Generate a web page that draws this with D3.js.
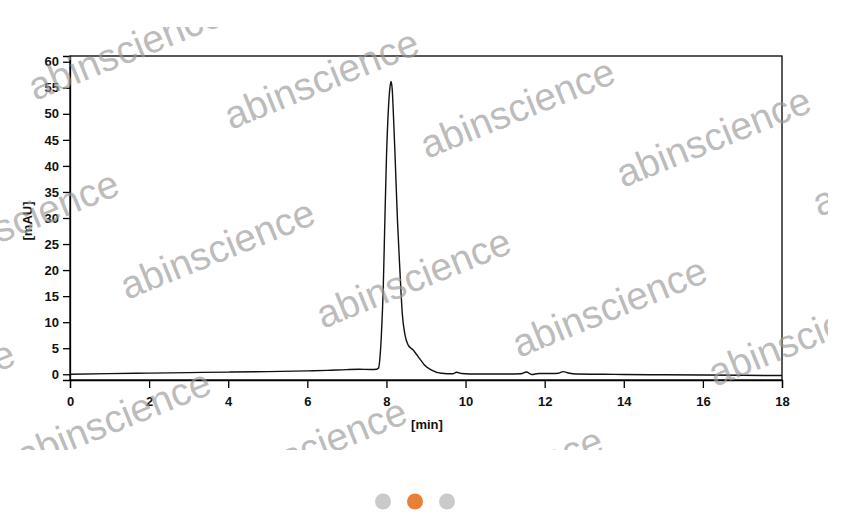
<!DOCTYPE html>
<html>
<head>
<meta charset="utf-8">
<script src="https://cdn.jsdelivr.net/npm/d3@7"></script>
<style>
  html, body { margin: 0; padding: 0; background: #fff; }
  svg { display: block; }
</style>
</head>
<body>
<svg id="chart" width="846" height="530"></svg>
<script>
// ---- data ----
const timeMin = [0, 1, 2, 3, 4, 5, 6, 6.5, 7, 7.3, 7.6, 7.75, 7.8, 7.83, 7.87, 7.92, 7.96, 8.0, 8.05, 8.085, 8.115, 8.145, 8.17, 8.22, 8.28, 8.34, 8.40, 8.47, 8.55, 8.67, 8.80, 8.96, 9.14, 9.39, 9.68, 9.77, 9.9, 10.3, 11.0, 11.4, 11.54, 11.67, 11.85, 12.2, 12.35, 12.47, 12.6, 12.8, 13.5, 14, 15, 16, 17, 18];
const signalMAU = [0.0, 0.12, 0.22, 0.32, 0.42, 0.5, 0.65, 0.75, 0.9, 0.95, 0.92, 0.96, 1.2, 2.7, 7.2, 16.8, 29.5, 41.5, 51, 54.8, 56.2, 54.8, 51, 41.5, 29.3, 20, 11.7, 7.5, 5.6, 4.7, 3.4, 1.8, 0.8, 0.2, 0.1, 0.4, 0.15, 0.05, 0.05, 0.1, 0.45, -0.05, 0.15, 0.15, 0.2, 0.5, 0.25, 0.05, 0.0, -0.05, -0.1, -0.15, -0.2, -0.25];
const xTicks = [0, 2, 4, 6, 8, 10, 12, 14, 16, 18];
const yTicks = [0, 5, 10, 15, 20, 25, 30, 35, 40, 45, 50, 55, 60];
const xLabel = "[min]";
const yLabel = "[mAU]";
const watermarkText = "abinscience";
const pagerDots = ["inactive", "active", "inactive"];

// ---- layout ----
const svg = d3.select("#chart");
const L = 70, R = 782, T = 56, B = 380;
const x = d3.scaleLinear().domain([0, 18]).range([L, R]);
const y = d3.scaleLinear().domain([-1.1, 61.1]).range([B, T]);
const FONT = "'Liberation Sans', Arial, Helvetica, sans-serif";

// frame
svg.append("rect")
  .attr("x", L).attr("y", T).attr("width", R - L).attr("height", B - T)
  .attr("fill", "none").attr("stroke", "#000").attr("stroke-width", 1.3);

// axes
const xAxis = svg.append("g").attr("transform", `translate(0,${B})`)
  .call(d3.axisBottom(x).tickValues(xTicks).tickSize(8).tickPadding(8.5).tickFormat(d3.format("d")));
const yAxis = svg.append("g").attr("transform", `translate(${L},0)`)
  .call(d3.axisLeft(y).tickValues(yTicks).tickSize(7).tickPadding(4).tickFormat(d3.format("d")));
[xAxis, yAxis].forEach(g => {
  g.select(".domain").attr("stroke", "#000").attr("stroke-width", 1.3);
  g.selectAll(".tick line").attr("stroke", "#000").attr("stroke-width", 1.3);
  g.selectAll(".tick text").attr("fill", "#111")
    .style("font-family", FONT).style("font-weight", "bold").style("font-size", "13px");
});

// axis titles
svg.append("text").attr("x", 427).attr("y", 429).attr("text-anchor", "middle")
  .style("font-family", FONT).style("font-weight", "bold").style("font-size", "13px").attr("fill", "#111")
  .text(xLabel);
svg.append("text").attr("transform", "translate(32,221) rotate(-90)").attr("text-anchor", "middle")
  .style("font-family", FONT).style("font-weight", "bold").style("font-size", "13px").attr("fill", "#111")
  .text(yLabel);

// trace
const pts = timeMin.map((t, i) => [t, signalMAU[i]]);
svg.append("path").datum(pts)
  .attr("fill", "none").attr("stroke", "#111").attr("stroke-width", 1.4)
  .attr("stroke-linejoin", "round")
  .attr("d", d3.line().x(d => x(d[0])).y(d => y(d[1])).curve(d3.curveMonotoneX));

// watermark overlay (tiled, clipped to the image area like the reference)
svg.append("clipPath").attr("id", "wmclip")
  .append("rect").attr("x", 0).attr("y", 27).attr("width", 828).attr("height", 423);
const wm = svg.append("g").attr("clip-path", "url(#wmclip)");
const base = [231, 130], va = [196, 29], vb = [-104, 170];
for (let j = 0; j <= 2; j++) {
  for (let i = -2; i <= 3; i++) {
    const px = base[0] + i * va[0] + j * vb[0];
    const py = base[1] + i * va[1] + j * vb[1];
    if (px < -230 || px > 828 || py > 560) continue;
    wm.append("text")
      .attr("transform", `translate(${px},${py}) rotate(-22)`)
      .style("font-family", FONT).style("font-size", "39px")
      .attr("fill", "#9a9a9a").attr("fill-opacity", 0.68)
      .text(watermarkText);
  }
}

// pager dots
const dotX = d3.scalePoint().domain(d3.range(pagerDots.length)).range([383, 447]);
svg.selectAll("circle.dot").data(pagerDots).join("circle")
  .attr("class", "dot")
  .attr("cx", (d, i) => dotX(i)).attr("cy", 501.5).attr("r", 8)
  .attr("fill", d => d === "active" ? "#e8803a" : "#cacaca");
</script>
</body>
</html>
